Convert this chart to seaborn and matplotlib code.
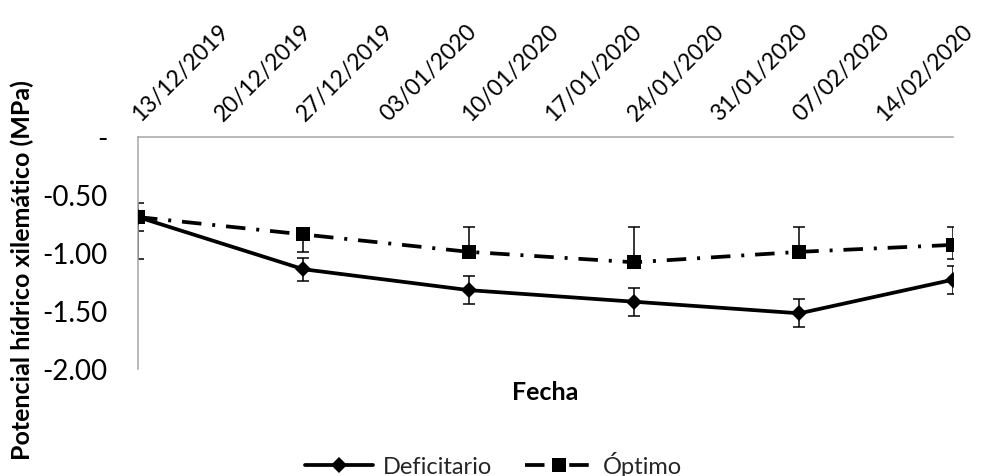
import matplotlib
matplotlib.use("Agg")
import matplotlib.pyplot as plt
import matplotlib.dates as mdates
import matplotlib.transforms as mtransforms
from matplotlib.ticker import FuncFormatter, FixedLocator
import numpy as np
import pandas as pd
import seaborn as sns

# Sampling dates and xylem water potential (MPa)
fechas = ["2019-12-13", "2019-12-27", "2020-01-10", "2020-01-24", "2020-02-07", "2020-02-20"]
deficitario = [-0.69, -1.14, -1.32, -1.42, -1.52, -1.23]
deficitario_err_inf = [0.12, 0.10, 0.12, 0.12, 0.12, 0.12]
deficitario_err_sup = [0.12, 0.10, 0.12, 0.12, 0.12, 0.12]
optimo = [-0.69, -0.84, -0.99, -1.08, -0.99, -0.93]
optimo_err_inf = [0.36, 0.15, 0.05, 0.02, 0.02, 0.12]
optimo_err_sup = [0.00, 0.00, 0.21, 0.30, 0.21, 0.15]

series = ["Deficitario", "Óptimo"]
tick_fechas = pd.date_range("2019-12-13", "2020-02-14", freq="7D")
y_ticks = [0.0, -0.5, -1.0, -1.5, -2.0]

sns.set_theme(style="white")
plt.rcParams["font.family"] = ["Lato", "DejaVu Sans"]
FS = 17

fechas_dt = pd.to_datetime(fechas)
df = pd.DataFrame({
    "Fecha": list(fechas_dt) * 2,
    "Potencial": deficitario + optimo,
    "Tratamiento": [series[0]] * len(fechas) + [series[1]] * len(fechas),
})

fig = plt.figure(figsize=(9.81, 4.77), dpi=100)
ax = fig.add_axes([138 / 981, 1 - 370 / 477, (953 - 138) / 981, (370 - 138) / 477])

# error bars first so the markers sit on top
ax.errorbar(fechas_dt, deficitario, yerr=[deficitario_err_inf, deficitario_err_sup],
            fmt="none", ecolor="black", elinewidth=1.1, capsize=4, capthick=1.1, zorder=2)
ax.errorbar(fechas_dt, optimo, yerr=[optimo_err_inf, optimo_err_sup],
            fmt="none", ecolor="black", elinewidth=1.1, capsize=4, capthick=1.1, zorder=2)

sns.lineplot(data=df, x="Fecha", y="Potencial", hue="Tratamiento", style="Tratamiento",
             hue_order=series, style_order=series,
             palette={"Deficitario": "black", "Óptimo": "black"},
             markers={"Deficitario": "D", "Óptimo": "s"},
             dashes={"Deficitario": "", "Óptimo": (5.2, 2.9, 0.8, 2.9)},
             linewidth=2.7, markersize=9, markeredgewidth=0,
             ax=ax, zorder=3)

for line in ax.get_lines():
    if line.get_marker() == "D":
        line.set_markersize(7.8)
    elif line.get_marker() == "s":
        line.set_markersize(10)

ax.set_xlim(pd.Timestamp("2019-12-13"), pd.Timestamp("2020-02-20"))
ax.set_ylim(-2.0, 0.0)

# x axis: weekly dates along the top
ax.xaxis.tick_top()
ax.xaxis.set_major_locator(FixedLocator(mdates.date2num(tick_fechas)))
ax.xaxis.set_major_formatter(mdates.DateFormatter("%d/%m/%Y"))
ax.tick_params(axis="x", which="both", length=0, pad=9, labelsize=16.5, colors="black",
               top=True, bottom=False, labeltop=True, labelbottom=False)

ax.set_yticks(y_ticks)
ax.yaxis.set_major_formatter(FuncFormatter(lambda v, p: "-" if abs(v) < 1e-9 else f"{v:.2f}"))
ax.tick_params(axis="y", length=0, pad=22, labelsize=20, colors="black")

for side in ["right", "bottom"]:
    ax.spines[side].set_visible(False)
for side in ["left", "top"]:
    ax.spines[side].set_color("#a6a6a6")
    ax.spines[side].set_linewidth(1.1)
ax.grid(False)

ax.set_xlabel("Fecha", fontsize=18, fontweight="bold", color="black")
ax.xaxis.set_label_position("bottom")
ax.xaxis.label.set_verticalalignment("center")
ax.xaxis.set_label_coords(0.5, (370 - 393) / 232)

ax.set_ylabel("Potencial hídrico xilemático (MPa)", fontsize=18, fontweight="bold", color="black")
ax.yaxis.label.set_verticalalignment("center")
ax.yaxis.set_label_coords((22 - 138) / 815, (370 - 270) / 232)

handles, labels = ax.get_legend_handles_labels()
ax.legend_.remove()
fig.legend(handles, labels, loc="center", bbox_to_anchor=(0.503, 12 / 477), ncol=2,
           frameon=False, fontsize=FS, handlelength=2.9, handletextpad=0.4,
           columnspacing=1.4)

# rotated date labels start just right of their tick
shift = mtransforms.ScaledTranslation(5 / 100, 0, fig.dpi_scale_trans)
for lbl in ax.get_xticklabels():
    lbl.set_rotation(45)
    lbl.set_ha("left")
    lbl.set_va("bottom")
    lbl.set_rotation_mode("anchor")
    lbl.set_transform(lbl.get_transform() + shift)

fig.savefig("out.png", dpi=100)
